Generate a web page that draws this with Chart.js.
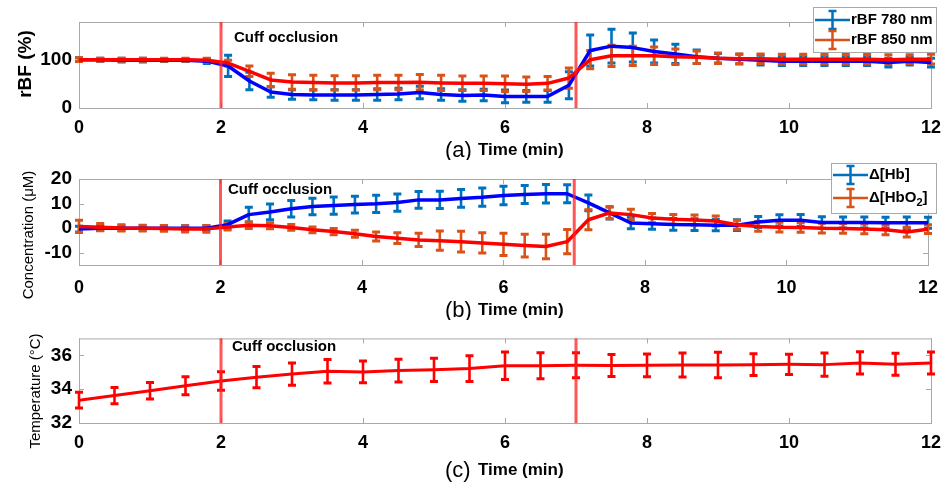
<!DOCTYPE html>
<html>
<head>
<meta charset="utf-8">
<script src="https://cdn.jsdelivr.net/npm/chart.js@4.4.1/dist/chart.umd.min.js"></script>
<style>
  html, body { margin: 0; padding: 0; background: #fff; }
  #wrap { position: relative; width: 950px; height: 482px; }
  .panel { position: absolute; left: 0; width: 950px; }
</style>
</head>
<body>
<div id="wrap">
  <div class="panel" style="top:0"><canvas id="chartA" width="950" height="160"></canvas></div>
  <div class="panel" style="top:160px"><canvas id="chartB" width="950" height="160"></canvas></div>
  <div class="panel" style="top:320px"><canvas id="chartC" width="950" height="162"></canvas></div>
</div>
<script>
// --- DATA ---
const timeFast = [0, 0.3, 0.6, 0.9, 1.2, 1.5, 1.8, 2.1, 2.4, 2.7, 3.0, 3.3, 3.6, 3.9, 4.2, 4.5, 4.8, 5.1, 5.4, 5.7,
                  6.0, 6.3, 6.6, 6.9, 7.2, 7.5, 7.8, 8.1, 8.4, 8.7, 9.0, 9.3, 9.6, 9.9, 10.2, 10.5, 10.8, 11.1, 11.4, 11.7, 12.0];
const timeTemp = [0, 0.5, 1, 1.5, 2, 2.5, 3, 3.5, 4, 4.5, 5, 5.5, 6, 6.5, 7, 7.5, 8, 8.5, 9, 9.5, 10, 10.5, 11, 11.5, 12];

const rbf780    = [100, 100, 99, 99, 99, 99, 97, 87, 56, 33, 28, 27, 27, 27, 28, 29, 32, 28, 26, 27,
                   24, 24, 24, 47, 119, 128, 125, 117, 112, 106, 103, 101, 99, 97, 97, 97, 97, 97, 94, 97, 94];
const rbf780Err = [4, 3, 4, 4, 3, 3, 5, 22, 18, 11, 10, 10, 11, 11, 12, 12, 13, 12, 12, 12,
                   13, 12, 12, 28, 32, 35, 30, 24, 20, 14, 10, 10, 10, 9, 9, 9, 9, 9, 9, 8, 9];
const rbf850    = [100, 100, 100, 100, 100, 100, 99, 93, 76, 58, 54, 53, 52, 52, 53, 53, 53.5, 52, 51, 51,
                   50, 49, 51, 62, 100, 108, 108, 108, 106, 105, 103, 102, 102, 101, 101, 101, 101, 101, 100, 101, 101];
const rbf850Err = [4, 3, 3, 3, 3, 3, 4, 6, 11, 14, 15, 15, 15, 15, 15, 15, 16, 16, 15, 15,
                   16, 15, 14, 21, 19, 22, 20, 18, 16, 13, 11, 10, 10, 10, 10, 10, 10, 10, 10, 9, 10];

const hb      = [-0.4, 0, 0, 0, 0, 0, 0, 1.4, 5.5, 6.6, 7.9, 8.8, 9.2, 9.6, 9.9, 10.4, 11.5, 11.5, 12.1, 12.6,
                 13.3, 13.7, 14.0, 14.0, 10.3, 6.2, 2.1, 1.8, 1.5, 1.4, 1.2, 1.2, 2.5, 3.2, 3.2, 2.3, 2.3, 2.3, 2.2, 2.2, 2.2];
const hbErr   = [1.2, 1, 1, 1, 1, 1, 1, 1.5, 3, 3.2, 3.4, 3.4, 3.5, 3.4, 3.5, 3.5, 3.4, 3.5, 3.6, 3.7,
                 3.8, 3.7, 3.8, 3.7, 3.2, 2.5, 2.3, 2.3, 2.4, 2.4, 2.3, 2.2, 2.2, 2.3, 2.4, 2.3, 2.2, 2.2, 2.2, 2.3, 2.2];
const hbo2    = [0.7, 0.4, 0.1, 0, -0.1, -0.3, -0.3, 0.5, 1.2, 1.0, 0.3, -0.7, -1.4, -2.3, -3.4, -4.1, -4.8, -5.1, -5.5, -6.0,
                 -6.6, -7.1, -7.5, -5.5, 3.4, 6.2, 5.5, 4.1, 3.6, 3.3, 2.9, 1.4, 0.7, 0.4, 0.3, 0, -0.1, -0.3, -0.7, -1.6, -0.4];
const hbo2Err = [2.5, 1.5, 1.3, 1.2, 1.2, 1.3, 1.4, 1.3, 1.3, 1.2, 1.2, 1.2, 1.3, 1.4, 1.8, 2.2, 2.7, 3.9, 4.2, 4.1,
                 4.5, 4.6, 5.0, 4.9, 4.1, 2.4, 2.2, 1.9, 2.0, 2.0, 2.0, 1.8, 2.0, 2.0, 2.0, 2.0, 2.0, 2.0, 2.0, 2.0, 1.8];

const temp    = [33.35, 33.62, 33.91, 34.2, 34.48, 34.71, 34.89, 35.06, 35.02, 35.1, 35.14, 35.22, 35.38, 35.38, 35.41,
                 35.4, 35.41, 35.43, 35.43, 35.45, 35.47, 35.45, 35.55, 35.47, 35.55];
const tempErr = [0.46, 0.48, 0.49, 0.53, 0.55, 0.63, 0.66, 0.7, 0.64, 0.67, 0.69, 0.76, 0.81, 0.77, 0.74,
                 0.65, 0.67, 0.71, 0.75, 0.65, 0.6, 0.69, 0.66, 0.65, 0.65];

const xTicks = [0, 2, 4, 6, 8, 10, 12];
const yTicksA = [0, 100];
const yTicksB = [-10, 0, 10, 20];
const yTicksC = [32, 34, 36];
const occlusionMarks = [2, 7];   // cuff on / cuff off (min)

const FONT = '"Liberation Sans", Arial, Helvetica, sans-serif';
const AXIS_GRAY = '#a9a9a9';

const pts = (xs, ys) => xs.map((x, i) => ({ x, y: ys[i] }));

// --- PLUGIN: caixa, barras de erro, marcas, textos ---
const decor = {
    id: 'decor',
    beforeDatasetsDraw(chart, args, o) {
        const { ctx, chartArea: a } = chart;
        const xs = chart.scales.x, ys = chart.scales.y;
        ctx.save();
        // caixa dos eixos + ticks para dentro
        ctx.strokeStyle = AXIS_GRAY;
        ctx.lineWidth = 1;
        ctx.strokeRect(a.left + 0.5, a.top + 0.5, a.right - a.left, a.bottom - a.top);
        ctx.beginPath();
        xs.ticks.forEach(t => {
            const px = Math.round(xs.getPixelForValue(t.value)) + 0.5;
            ctx.moveTo(px, a.bottom); ctx.lineTo(px, a.bottom - 5);
            ctx.moveTo(px, a.top); ctx.lineTo(px, a.top + 5);
        });
        ys.ticks.forEach(t => {
            const py = Math.round(ys.getPixelForValue(t.value)) + 0.5;
            ctx.moveTo(a.left, py); ctx.lineTo(a.left + 5, py);
            ctx.moveTo(a.right, py); ctx.lineTo(a.right - 5, py);
        });
        ctx.stroke();
        // barras de erro (por baixo das linhas)
        for (let d = chart.data.datasets.length - 1; d >= 0; d--) {
            const ds = chart.data.datasets[d];
            if (!ds.errors) continue;
            const meta = chart.getDatasetMeta(d);
            ctx.strokeStyle = ds.errorColor;
            const w = 4;
            meta.data.forEach((p, i) => {
                const v = ds.data[i].y, e = ds.errors[i];
                const y1 = ys.getPixelForValue(v - e), y2 = ys.getPixelForValue(v + e);
                ctx.lineWidth = 2.6;
                ctx.beginPath();
                ctx.moveTo(p.x, y1); ctx.lineTo(p.x, y2);
                ctx.stroke();
                ctx.lineWidth = 3;
                ctx.beginPath();
                ctx.moveTo(p.x - w, y1); ctx.lineTo(p.x + w, y1);
                ctx.moveTo(p.x - w, y2); ctx.lineTo(p.x + w, y2);
                ctx.stroke();
            });
        }
        ctx.restore();
    },
    afterDatasetsDraw(chart, args, o) {
        const { ctx, chartArea: a } = chart;
        const xs = chart.scales.x;
        ctx.save();
        ctx.strokeStyle = 'rgba(255, 30, 30, 0.75)';
        ctx.lineWidth = 3;
        occlusionMarks.forEach(m => {
            const px = xs.getPixelForValue(m);
            ctx.beginPath(); ctx.moveTo(px, a.top); ctx.lineTo(px, a.bottom); ctx.stroke();
        });
        ctx.fillStyle = '#000';
        ctx.font = `bold 15px ${FONT}`;
        ctx.textBaseline = 'middle';
        ctx.textAlign = 'left';
        ctx.fillText('Cuff occlusion', o.cuffX, o.cuffY);
        ctx.restore();
    },
    afterDraw(chart, args, o) {
        const { ctx } = chart;
        ctx.save();
        ctx.fillStyle = '#000';
        ctx.textBaseline = 'middle';
        // rótulo do eixo x: "(a) Time (min)"
        ctx.textAlign = 'left';
        ctx.font = `22px ${FONT}`;
        ctx.fillText(o.tag, 445, o.timeY + 1);
        ctx.font = `bold 17px ${FONT}`;
        ctx.fillText('Time (min)', 478, o.timeY);
        // rótulo do eixo y (vertical)
        ctx.translate(o.yTitleX, o.yTitleY);
        ctx.rotate(-Math.PI / 2);
        ctx.textAlign = 'center';
        ctx.font = `${o.yTitleBold ? 'bold ' : ''}${o.yTitleSize}px ${FONT}`;
        ctx.fillText(o.yTitle, 0, 0);
        ctx.restore();

        // legenda com símbolo de errorbar
        const L = o.legend;
        if (!L) return;
        const items = chart.data.datasets.filter(ds => ds.errors).reverse();
        ctx.save();
        ctx.fillStyle = '#fff';
        ctx.strokeStyle = AXIS_GRAY;
        ctx.lineWidth = 1;
        ctx.fillRect(L.x, L.y, L.w, L.h);
        ctx.strokeRect(L.x + 0.5, L.y + 0.5, L.w, L.h);
        items.forEach((ds, i) => {
            const ry = L.rows[i];
            ctx.strokeStyle = ds.errorColor;
            ctx.lineWidth = 2.5;
            ctx.beginPath();
            ctx.moveTo(L.x + 2, ry); ctx.lineTo(L.x + 37, ry);
            const cx = L.x + 19.5;
            ctx.moveTo(cx, ry - 9); ctx.lineTo(cx, ry + 9);
            ctx.moveTo(cx - 4, ry - 9); ctx.lineTo(cx + 4, ry - 9);
            ctx.moveTo(cx - 4, ry + 9); ctx.lineTo(cx + 4, ry + 9);
            ctx.stroke();
            // texto, com subscrito para "₂"
            ctx.fillStyle = '#000';
            ctx.textAlign = 'left';
            ctx.textBaseline = 'middle';
            let tx = L.x + 38;
            ds.label.split(/(₂)/).forEach(part => {
                if (!part) return;
                if (part === '₂') {
                    ctx.font = `bold 11px ${FONT}`;
                    ctx.fillText('2', tx, ry + 5);
                    tx += ctx.measureText('2').width;
                } else {
                    ctx.font = `bold 15px ${FONT}`;
                    ctx.fillText(part, tx, ry);
                    tx += ctx.measureText(part).width;
                }
            });
        });
        ctx.restore();
    }
};

function buildPanel(id, h, plotTop, plotBottom, yMin, yMax, yTicks, datasets, deco, xTickPad) {
    return new Chart(document.getElementById(id), {
        type: 'line',
        data: { datasets },
        options: {
            responsive: false,
            animation: false,
            events: [],
            layout: { padding: { left: 0, right: 14, top: plotTop, bottom: 0 } },
            elements: { point: { radius: 0 }, line: { tension: 0, borderCapStyle: 'round', borderJoinStyle: 'round' } },
            plugins: { legend: { display: false }, tooltip: { enabled: false }, decor: deco },
            scales: {
                x: {
                    type: 'linear', min: 0, max: 12,
                    grid: { display: false, drawTicks: false }, border: { display: false },
                    afterBuildTicks: s => { s.ticks = xTicks.map(v => ({ value: v })); },
                    afterFit: s => { s.height = h - plotBottom; },
                    ticks: { color: '#000', maxRotation: 0, padding: xTickPad, font: { family: FONT, size: 18, weight: 'bold' } }
                },
                y: {
                    min: yMin, max: yMax,
                    grid: { display: false, drawTicks: false }, border: { display: false },
                    afterBuildTicks: s => { s.ticks = yTicks.map(v => ({ value: v })); },
                    afterFit: s => { s.width = 79; },
                    ticks: { color: '#000', padding: 7, font: { family: FONT, size: 19, weight: 'bold' } }
                }
            }
        },
        plugins: [decor]
    });
}

// (a) fluxo sanguíneo relativo
buildPanel('chartA', 160, 22, 108, 0, 178, yTicksA, [
    { label: 'rBF 850 nm', data: pts(timeFast, rbf850), errors: rbf850Err, errorColor: '#D95319', borderColor: '#ff0000', borderWidth: 3.5 },
    { label: 'rBF 780 nm', data: pts(timeFast, rbf780), errors: rbf780Err, errorColor: '#0072BD', borderColor: '#0000ff', borderWidth: 3.5 }
], {
    tag: '(a)', timeY: 150, yTitle: 'rBF (%)', yTitleBold: true, yTitleSize: 19, yTitleX: 26, yTitleY: 64,
    cuffX: 234, cuffY: 38,
    legend: { x: 813, y: 7, w: 123, h: 45, rows: [20, 40] }
}, 9);

// (b) hemoglobina
buildPanel('chartB', 160, 19, 105, -15, 20, yTicksB, [
    { label: 'Δ[HbO₂]', data: pts(timeFast, hbo2), errors: hbo2Err, errorColor: '#D95319', borderColor: '#ff0000', borderWidth: 3.5 },
    { label: 'Δ[Hb]', data: pts(timeFast, hb), errors: hbErr, errorColor: '#0072BD', borderColor: '#0000ff', borderWidth: 3.5 }
], {
    tag: '(b)', timeY: 150, yTitle: 'Concentration (μM)', yTitleBold: false, yTitleSize: 15, yTitleX: 29, yTitleY: 75,
    cuffX: 228, cuffY: 30,
    legend: { x: 831, y: 3, w: 105, h: 50, rows: [15, 38] }
}, 12);

// (c) temperatura
buildPanel('chartC', 162, 17, 103, 32, 37, yTicksC, [
    { label: 'Temperature', data: pts(timeTemp, temp), errors: tempErr, errorColor: '#ff0000', borderColor: '#ff0000', borderWidth: 3 }
], {
    tag: '(c)', timeY: 150, yTitle: 'Temperature (°C)', yTitleBold: false, yTitleSize: 15, yTitleX: 36, yTitleY: 71,
    cuffX: 232, cuffY: 27,
    legend: null
}, 9);
</script>
</body>
</html>
